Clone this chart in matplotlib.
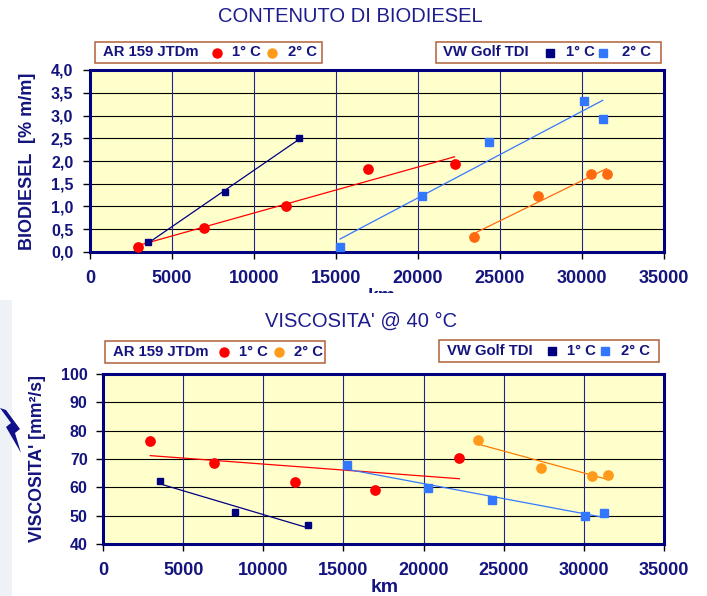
import numpy as np
import matplotlib
matplotlib.use("Agg")
import matplotlib.pyplot as plt
from matplotlib.patches import Rectangle, Polygon
from matplotlib.lines import Line2D
from matplotlib.transforms import Bbox, TransformedBbox

plt.rcParams['font.family'] = ['Liberation Sans', 'DejaVu Sans']

W, H = 707, 596

# ---- data ----
km_ar_1 = [2950, 6940, 11950, 16950, 22230]
km_ar_2 = [23400, 27300, 30530, 31500]
km_vw_1 = [3530, 8260, 12770]
km_vw_2 = [15250, 20260, 24300, 30100, 31265]

biodiesel_ar_1 = [0.12, 0.52, 1.01, 1.82, 1.93]
biodiesel_ar_2 = [0.33, 1.22, 1.72, 1.72]
biodiesel_vw_1 = [0.22, 1.31, 2.51]
biodiesel_vw_2 = [0.11, 1.22, 2.41, 3.32, 2.92]

visc_ar_1 = [76.5, 68.6, 61.9, 59.2, 70.2]
visc_ar_2 = [76.6, 66.7, 64.0, 64.2]
visc_vw_1 = [62.3, 51.2, 46.8]
visc_vw_2 = [67.8, 59.7, 55.6, 50.0, 51.0]

x_ticks = [0, 5000, 10000, 15000, 20000, 25000, 30000, 35000]
bio_ticks = [0.0, 0.5, 1.0, 1.5, 2.0, 2.5, 3.0, 3.5, 4.0]
bio_labels = ['0,0', '0,5', '1,0', '1,5', '2,0', '2,5', '3,0', '3,5', '4,0']
visc_ticks = [40, 50, 60, 70, 80, 90, 100]

NAVY = '#000080'
TXT = '#14147e'
RED = '#ff0000'
ORANGE_TOP = '#ff6a10'
ORANGE_BOT = '#ff9a1a'
LBLUE = '#3377ff'
BROWN = '#b0603a'


def fx(x):
    return x / W


def fy(y):
    return 1 - y / H


def trend(ax, x, y, color):
    k, b = np.polyfit(x, y, 1)
    xs = np.array([min(x), max(x)])
    ax.plot(xs, k * xs + b, color=color, lw=0.9, zorder=3)


def style_axes(ax, ylim, yticks, ylabels, ypad):
    ax.set_facecolor('#ffffcc')
    ax.set_xlim(0, 35000)
    ax.set_ylim(*ylim)
    ax.set_xticks(x_ticks)
    ax.set_xticklabels([str(t) for t in x_ticks])
    ax.set_yticks(yticks)
    ax.set_yticklabels(ylabels)
    for t in yticks[1:-1]:
        ax.axhline(t, color='black', lw=0.8, zorder=1)
    for t in x_ticks[1:-1]:
        ax.axvline(t, color='#24248a', lw=0.8, zorder=1)
    for s in ax.spines.values():
        s.set_color(NAVY)
        s.set_linewidth(2.2)
    ax.tick_params(axis='x', direction='out', length=5, width=1, color='black',
                   pad=8, labelsize=13, labelcolor=TXT)
    ax.tick_params(axis='y', direction='out', length=5, width=1, color='black',
                   pad=ypad, labelsize=11.5, labelcolor=TXT)
    for lab in ax.get_xticklabels() + ax.get_yticklabels():
        lab.set_fontweight('bold')


def legend_box(fig, box, items):
    x0, y0, x1, y1 = box
    fig.add_artist(Rectangle((fx(x0), fy(y1)), fx(x1 - x0), (y1 - y0) / H,
                             transform=fig.transFigure, facecolor='white',
                             edgecolor=BROWN, lw=1.1))
    yc = (y0 + y1) / 2
    for kind, xpos, val, color in items:
        if kind == 'text':
            fig.text(fx(xpos), fy(yc), val, ha='left', va='center', fontsize=10.7,
                     fontweight='bold', color=TXT)
        else:
            ms = 6.5 if val == 'o' else 5.2
            fig.add_artist(Line2D([fx(xpos)], [fy(yc)], marker=val, ms=ms, color=color,
                                  mec=color, ls='none', transform=fig.transFigure))


fig = plt.figure(figsize=(W / 100, H / 100), dpi=100)

# faint backdrop on the left edge of the slide
fig.add_artist(Rectangle((0, 0), fx(12), fy(300), transform=fig.transFigure,
                         facecolor='#eef1f6', edgecolor='none', zorder=0))

# ---------- top chart: biodiesel ----------
ax1 = fig.add_axes([fx(90), fy(252), fx(664 - 90), (252 - 70) / H])
style_axes(ax1, (0, 4), bio_ticks, bio_labels, 7)
trend(ax1, km_ar_1, biodiesel_ar_1, RED)
trend(ax1, km_ar_2, biodiesel_ar_2, ORANGE_TOP)
trend(ax1, km_vw_1, biodiesel_vw_1, NAVY)
trend(ax1, km_vw_2, biodiesel_vw_2, LBLUE)
ax1.plot(km_ar_1, biodiesel_ar_1, 'o', color=RED, ms=6.7, zorder=4)
ax1.plot(km_ar_2, biodiesel_ar_2, 'o', color=ORANGE_TOP, ms=6.7, zorder=4)
ax1.plot(km_vw_1, biodiesel_vw_1, 's', color=NAVY, ms=5, zorder=4)
ax1.plot(km_vw_2, biodiesel_vw_2, 's', color=LBLUE, ms=5.3, zorder=4)

fig.text(fx(350), fy(16.5), 'CONTENUTO DI BIODIESEL', ha='center', va='center',
         fontsize=14.5, color='#1c1c8c')
fig.text(fx(28), fy(161), 'BIODIESEL  [% m/m]', rotation=90, ha='center', va='center',
         fontsize=13, fontweight='bold', color=TXT)
km_top = fig.text(fx(382), fy(301), 'km', ha='center', va='baseline', fontsize=14,
                  fontweight='bold', color=TXT)
km_top.set_clip_box(TransformedBbox(Bbox([[0, fy(293)], [1, 1]]), fig.transFigure))

legend_box(fig, (95, 42, 322, 63), [
    ('text', 103, 'AR 159 JTDm', None), ('mark', 217, 'o', RED),
    ('text', 232, '1° C', None), ('mark', 272, 'o', ORANGE_BOT),
    ('text', 288, '2° C', None)])
legend_box(fig, (436, 42, 661, 63), [
    ('text', 443, 'VW Golf TDI', None), ('mark', 550, 's', NAVY),
    ('text', 566, '1° C', None), ('mark', 603, 's', LBLUE),
    ('text', 622, '2° C', None)])

# ---------- bottom chart: viscosity ----------
ax2 = fig.add_axes([fx(103), fy(544), fx(664 - 103), (544 - 374) / H])
style_axes(ax2, (40, 100), visc_ticks, [str(t) for t in visc_ticks], 6)
trend(ax2, km_ar_1, visc_ar_1, RED)
trend(ax2, km_ar_2, visc_ar_2, '#ff7a00')
trend(ax2, km_vw_1, visc_vw_1, NAVY)
trend(ax2, km_vw_2, visc_vw_2, LBLUE)
ax2.plot(km_ar_1, visc_ar_1, 'o', color=RED, ms=6.7, zorder=4)
ax2.plot(km_ar_2, visc_ar_2, 'o', color=ORANGE_BOT, ms=6.7, zorder=4)
ax2.plot(km_vw_1, visc_vw_1, 's', color=NAVY, ms=5, zorder=4)
ax2.plot(km_vw_2, visc_vw_2, 's', color=LBLUE, ms=5.3, zorder=4)

fig.text(fx(361), fy(321), "VISCOSITA' @ 40 °C", ha='center', va='center',
         fontsize=14.5, color='#1c1c8c')
fig.text(fx(38), fy(459), "VISCOSITA' [mm²/s]", rotation=90, ha='center', va='center',
         fontsize=12.7, fontweight='bold', color=TXT)
fig.text(fx(385), fy(595.5), 'km', ha='center', va='bottom', fontsize=14,
         fontweight='bold', color=TXT)

legend_box(fig, (105, 341, 325, 363), [
    ('text', 113, 'AR 159 JTDm', None), ('mark', 224, 'o', RED),
    ('text', 239, '1° C', None), ('mark', 279, 'o', ORANGE_BOT),
    ('text', 294, '2° C', None)])
legend_box(fig, (439, 340, 659, 362), [
    ('text', 447, 'VW Golf TDI', None), ('mark', 552, 's', NAVY),
    ('text', 567, '1° C', None), ('mark', 605, 's', LBLUE),
    ('text', 621, '2° C', None)])

# lightning arrow on the left edge
bolt = [(0, 408), (11, 423), (6, 427), (21, 453), (15, 433), (20, 429), (6, 410)]
fig.add_artist(Polygon([(fx(x), fy(y)) for x, y in bolt], closed=True,
                       transform=fig.transFigure, facecolor='#10108a', edgecolor='none'))

fig.savefig('out.png', dpi=100)
